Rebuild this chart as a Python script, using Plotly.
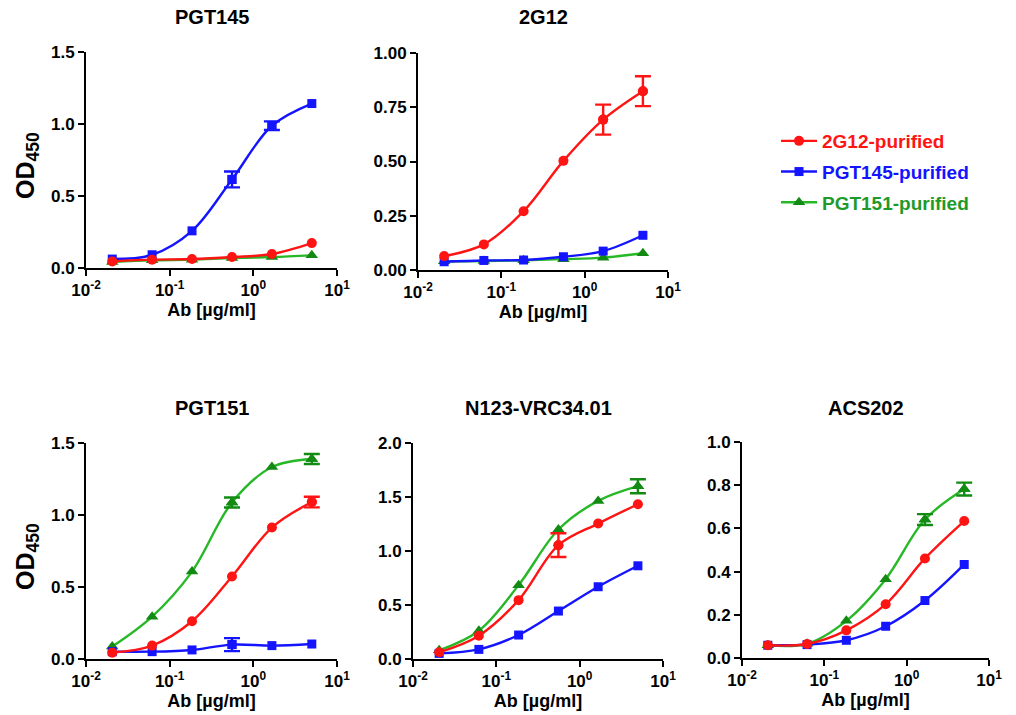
import plotly.graph_objects as go

# ---------------- data ----------------
conc = [0.0206, 0.0617, 0.185, 0.556, 1.667, 5.0]
series_names = ["2G12-purified", "PGT145-purified", "PGT151-purified"]
panel_titles = ["PGT145", "2G12", "PGT151", "N123-VRC34.01", "ACS202"]

# values per panel: red (2G12-purified), blue (PGT145-purified), green (PGT151-purified)
pgt145_red = [0.046, 0.058, 0.062, 0.076, 0.097, 0.173]
pgt145_blue = [0.062, 0.092, 0.258, 0.615, 0.988, 1.142]
pgt145_green = [0.042, 0.053, 0.058, 0.069, 0.076, 0.088]
pgt145_red_err = [0, 0, 0, 0, 0, 0]
pgt145_blue_err = [0, 0, 0, 0.055, 0.03, 0]
pgt145_green_err = [0, 0, 0, 0, 0, 0]

g12_red = [0.064, 0.118, 0.271, 0.503, 0.693, 0.824]
g12_blue = [0.038, 0.044, 0.046, 0.061, 0.087, 0.160]
g12_green = [0.040, 0.041, 0.045, 0.050, 0.057, 0.077]
g12_red_err = [0, 0, 0, 0, 0.069, 0.069]
g12_blue_err = [0, 0, 0, 0, 0, 0]
g12_green_err = [0, 0, 0, 0, 0, 0]

pgt151_red = [0.044, 0.093, 0.262, 0.573, 0.913, 1.090]
pgt151_blue = [0.051, 0.051, 0.063, 0.100, 0.093, 0.104]
pgt151_green = [0.086, 0.294, 0.607, 1.087, 1.333, 1.389]
pgt151_red_err = [0, 0, 0, 0, 0, 0.037]
pgt151_blue_err = [0, 0, 0, 0.045, 0, 0]
pgt151_green_err = [0, 0, 0, 0.035, 0, 0.035]

vrc_red = [0.062, 0.216, 0.545, 1.054, 1.254, 1.433]
vrc_blue = [0.052, 0.089, 0.222, 0.444, 0.669, 0.863]
vrc_green = [0.080, 0.262, 0.684, 1.199, 1.464, 1.600]
vrc_red_err = [0, 0, 0, 0.11, 0, 0]
vrc_blue_err = [0, 0, 0, 0, 0, 0]
vrc_green_err = [0, 0, 0, 0, 0, 0.065]

acs_red = [0.059, 0.065, 0.128, 0.249, 0.461, 0.634]
acs_blue = [0.059, 0.062, 0.082, 0.147, 0.266, 0.433]
acs_green = [0.059, 0.066, 0.172, 0.365, 0.641, 0.782]
acs_red_err = [0, 0, 0, 0, 0, 0]
acs_blue_err = [0, 0, 0, 0, 0, 0]
acs_green_err = [0, 0, 0, 0, 0.025, 0.03]

x_tickvals = [0.01, 0.1, 1, 10]
x_ticktext = ["10<sup>-2</sup>", "10<sup>-1</sup>", "10<sup>0</sup>", "10<sup>1</sup>"]

# ---------------- styling ----------------
W, H = 1016, 715
FONT = "Liberation Sans, Arial, sans-serif"
line_colors = ["#FF1414", "#1414FF", "#27B827"]
marker_colors = ["#FF1414", "#1414FF", "#138A13"]
symbols = ["circle", "square", "triangle-up"]
msizes = [10, 9, 11]
text_colors = ["#FF1414", "#1414FF", "#1E9A2A"]

# pixel boxes: (x0, x1, ytop, ybottom)
boxes = [
    (86, 337, 52, 268),
    (418, 668, 53, 270),
    (86, 337, 443, 659),
    (413, 663, 443, 659),
    (742, 989, 442, 658),
]
yranges = [(0, 1.5), (0, 1.0), (0, 1.5), (0, 2.0), (0, 1.0)]
ydticks = [0.5, 0.25, 0.5, 0.5, 0.2]
yformats = [".1f", ".2f", ".1f", ".1f", ".1f"]

panel_data = [
    ([pgt145_red, pgt145_blue, pgt145_green], [pgt145_red_err, pgt145_blue_err, pgt145_green_err]),
    ([g12_red, g12_blue, g12_green], [g12_red_err, g12_blue_err, g12_green_err]),
    ([pgt151_red, pgt151_blue, pgt151_green], [pgt151_red_err, pgt151_blue_err, pgt151_green_err]),
    ([vrc_red, vrc_blue, vrc_green], [vrc_red_err, vrc_blue_err, vrc_green_err]),
    ([acs_red, acs_blue, acs_green], [acs_red_err, acs_blue_err, acs_green_err]),
]
draw_order = [2, 1, 0]

fig = go.Figure()
layout = {}
annotations = []

for p, (box, yr, dt, yf, (vals, errs), title) in enumerate(
        zip(boxes, yranges, ydticks, yformats, panel_data, panel_titles)):
    x0, x1, yt, yb = box
    n = "" if p == 0 else str(p + 1)
    xa, ya = "x" + n, "y" + n
    layout["xaxis" + n] = dict(
        domain=[x0 / W, x1 / W], anchor=ya, type="log", range=[-2, 1],
        tickvals=x_tickvals, ticktext=x_ticktext, automargin=False,
        showline=True, linecolor="black", linewidth=2,
        ticks="outside", ticklen=6, tickwidth=2, tickcolor="black",
        showgrid=False, zeroline=False,
        tickfont=dict(family=FONT, size=17, color="black", weight="bold"),
        title=dict(text="Ab [µg/ml]", standoff=2,
                   font=dict(family=FONT, size=18, color="black", weight="bold")),
    )
    layout["yaxis" + n] = dict(
        domain=[1 - yb / H, 1 - yt / H], anchor=xa, range=list(yr),
        dtick=dt, tick0=0, tickformat=yf, automargin=False,
        showline=True, linecolor="black", linewidth=2,
        ticks="outside", ticklen=6, tickwidth=2, tickcolor="black",
        showgrid=False, zeroline=False,
        tickfont=dict(family=FONT, size=17, color="black", weight="bold"),
    )
    annotations.append(dict(
        text=title, x=(x0 + x1) / 2 / W, y=1 - (17 if p < 2 else 408) / H,
        xref="paper", yref="paper", xanchor="center", yanchor="middle",
        showarrow=False, font=dict(family=FONT, size=20, color="black", weight="bold")))
    if x0 < 100:
        annotations.append(dict(
            text="OD<sub>450</sub>", x=27 / W, y=1 - ((yt + yb) / 2 + 6) / H,
            xref="paper", yref="paper", xanchor="center", yanchor="middle",
            textangle=-90, showarrow=False,
            font=dict(family=FONT, size=25, color="black", weight="bold")))
    for s in draw_order:
        marker = dict(symbol=symbols[s], size=msizes[s], color=marker_colors[s],
                      line=dict(width=0))
        fig.add_trace(go.Scatter(
            x=conc, y=vals[s], xaxis=xa, yaxis=ya,
            mode="lines+markers",
            name='<span style="color:%s">%s</span>' % (text_colors[s], series_names[s]),
            legendgroup=series_names[s], legendrank=s + 1,
            showlegend=(p == 0),
            line=dict(color=line_colors[s], width=2.4, shape="spline", smoothing=1.0),
            marker=marker,
        ))
        idx = [i for i, e in enumerate(errs[s]) if e > 0]
        if idx:
            fig.add_trace(go.Scatter(
                x=[conc[i] for i in idx], y=[vals[s][i] for i in idx],
                xaxis=xa, yaxis=ya, mode="markers", showlegend=False,
                legendgroup=series_names[s], marker=marker,
                error_y=dict(type="data", array=[errs[s][i] for i in idx],
                             visible=True, color=marker_colors[s],
                             thickness=2.4, width=8),
            ))

fig.update_layout(
    width=W, height=H,
    margin=dict(l=0, r=0, t=0, b=0, autoexpand=False),
    paper_bgcolor="white", plot_bgcolor="white",
    annotations=annotations,
    showlegend=True,
    legend=dict(x=776 / W, y=1 - 122 / H, xanchor="left", yanchor="top",
                font=dict(family=FONT, size=19, weight="bold"),
                tracegroupgap=3, itemwidth=36, bgcolor="rgba(0,0,0,0)"),
    **layout,
)

fig.write_html("out.html", config={"displayModeBar": False},
               post_script="document.body.style.margin='0';")
